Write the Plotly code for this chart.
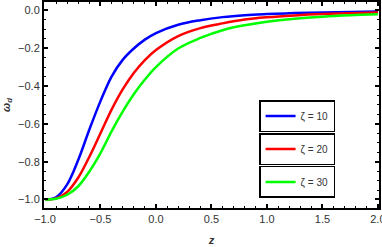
import plotly.graph_objects as go

z_vals = [-1.0, -0.9, -0.8, -0.7, -0.6, -0.5, -0.4, -0.3, -0.2, -0.1, 0.0,
          0.2, 0.4, 0.6, 0.8, 1.0, 1.25, 1.5, 1.75, 2.0]
w_zeta10 = [-1.0, -0.988, -0.92, -0.79, -0.63, -0.48, -0.35, -0.262, -0.202, -0.155, -0.12,
            -0.076, -0.052, -0.036, -0.026, -0.02, -0.0145, -0.011, -0.0084, -0.0066]
w_zeta20 = [-1.0, -0.994, -0.96, -0.884, -0.774, -0.65, -0.525, -0.418, -0.331, -0.263, -0.21,
            -0.136, -0.094, -0.069, -0.049, -0.037, -0.027, -0.020, -0.0156, -0.012]
w_zeta30 = [-1.0, -0.996, -0.975, -0.93, -0.852, -0.755, -0.64, -0.536, -0.444, -0.366, -0.30,
            -0.202, -0.146, -0.105, -0.079, -0.060, -0.044, -0.0335, -0.026, -0.0205]
series_names = ["ζ = 10", "ζ = 20", "ζ = 30"]
series_colors = ["#0000FF", "#FF0000", "#00FF00"]
x_ticks = [-1.0, -0.5, 0.0, 0.5, 1.0, 1.5, 2.0]
y_ticks = [0.0, -0.2, -0.4, -0.6, -0.8, -1.0]

fig = go.Figure()
legends = ["legend", "legend2", "legend3"]
for name, ys, col, lg in zip(series_names, [w_zeta10, w_zeta20, w_zeta30], series_colors, legends):
    fig.add_trace(go.Scatter(x=z_vals, y=ys, mode="lines", name=name, showlegend=True,
                             line=dict(color=col, width=2.5, shape="spline", smoothing=1.0),
                             legend=lg))

font = dict(family="Liberation Sans, Arial, sans-serif", size=11, color="#333333")
axis_common = dict(showgrid=False, zeroline=False, showline=True, linecolor="black",
                   linewidth=2, mirror="allticks", ticks="inside", ticklen=4,
                   tickwidth=1.5, tickcolor="black", tickfont=font, automargin=False,
                   ticklabeloverflow="allow")

fig.update_xaxes(range=[-1.009, 2.01], tickvals=x_ticks,
                 ticktext=[f"{v:.1f}".replace("-", "−") for v in x_ticks],
                 minor=dict(dtick=0.1, ticks="inside", ticklen=2, tickcolor="black", tickwidth=1),
                 title=dict(text="<b><i>z</i></b>", font=dict(family="Liberation Sans, Arial", size=11, color="#333333"), standoff=12),
                 **axis_common)
fig.update_yaxes(range=[-1.045, 0.044], tickvals=y_ticks,
                 ticktext=[f"{v:.1f}".replace("-", "−") if v != 0 else "0.0" for v in y_ticks],
                 minor=dict(dtick=0.05, ticks="inside", ticklen=2, tickcolor="black", tickwidth=1),
                 title=dict(text="<b><i>ω<sub>d</sub></i></b>", font=dict(family="Liberation Sans, Arial", size=11, color="#333333"), standoff=6),
                 **axis_common)

leg_tops = [0.524, 0.364, 0.204]
leg_layout = {}
for lg, top in zip(legends, leg_tops):
    leg_layout[lg] = dict(x=0.642, y=top, xanchor="left", yanchor="top",
                          bordercolor="black", borderwidth=1.5, bgcolor="white",
                          font=dict(family="Liberation Sans, Arial", size=10, color="#333333"),
                          itemwidth=30, tracegroupgap=0)

fig.update_layout(width=382, height=247, margin=dict(l=44, r=3, t=2, b=39),
                  showlegend=True,
                  plot_bgcolor="white", paper_bgcolor="white", **leg_layout)
fig.write_html("out.html", config={"displayModeBar": False},
               post_script="document.body.style.margin='0';document.body.style.overflow='hidden';")
